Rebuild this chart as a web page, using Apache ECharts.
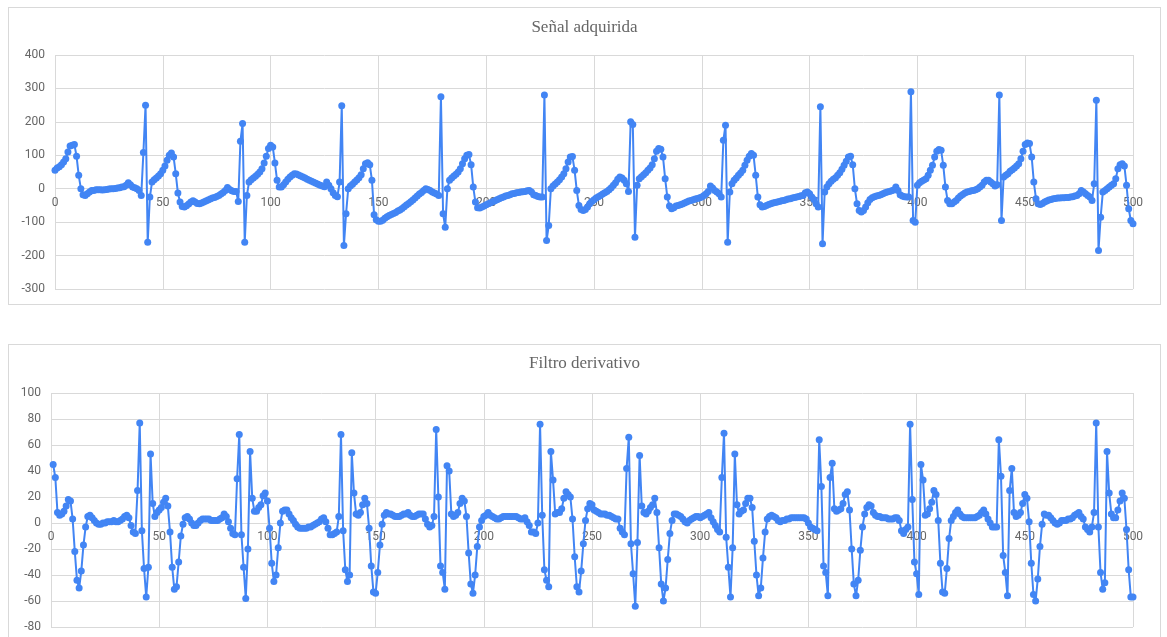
<!DOCTYPE html>
<html><head><meta charset="utf-8">
<script src="https://cdn.jsdelivr.net/npm/echarts@6/dist/echarts.min.js"></script>
<style>
html,body{margin:0;padding:0;background:#fff;overflow:hidden;width:1167px;height:637px;}
.box{position:absolute;left:8px;width:1151px;border:1px solid #d9d9d9;background:#fff;}
#c1{top:7px;height:296px;}
#c2{top:344px;height:300px;}
</style></head><body>
<div id="c1" class="box"></div><div id="c2" class="box"></div>
<script>
var title1 = 'Señal adquirida';
var title2 = 'Filtro derivativo';
var xTicks = {min: 0, max: 500, interval: 50};
var y1Ticks = {min: -300, max: 400, interval: 100};
var y2Ticks = {min: -80, max: 100, interval: 20};

// Señal adquirida, samples 0..500
var signal = [
55, 62, 66, 72, 80, 90, 110, 128, 130, 132,
97, 40, 0, -18, -20, -15, -10, -5, -5, -3,
-3, -3, -4, -3, -2, -1, 0, 0, 1, 2,
3, 5, 6, 10, 18, 12, 5, 3, 0, -5,
-20, 108, 250, -160, -25, 20, 27, 32, 38, 45,
55, 68, 85, 100, 107, 95, 45, -13, -40, -53,
-55, -51, -46, -40, -36, -40, -44, -45, -43, -40,
-37, -34, -31, -28, -26, -23, -20, -16, -11, -5,
4, -2, -6, -8, -8, -38, 142, 195, -160, -20,
20, 27, 32, 37, 43, 50, 60, 77, 97, 120,
130, 125, 77, 25, 5, 5, 12, 20, 28, 35,
40, 45, 44, 41, 38, 35, 32, 28, 25, 22,
19, 16, 13, 10, 8, 6, 20, 10, 0, -12,
-20, -24, 20, 248, -170, -75, 0, 8, 13, 20,
26, 33, 42, 60, 75, 78, 72, 25, -78, -93,
-97, -97, -94, -88, -84, -80, -77, -74, -71, -67,
-64, -59, -54, -49, -44, -39, -34, -28, -22, -16,
-11, -5, 0, -2, -5, -10, -13, -16, -20, 275,
-75, -115, 0, 25, 32, 38, 43, 50, 60, 75,
90, 100, 102, 72, 5, -40, -57, -58, -55, -52,
-48, -45, -42, -39, -36, -33, -30, -27, -25, -22,
-20, -18, -15, -14, -12, -11, -10, -9, -8, -6,
-5, -10, -18, -20, -23, -25, -25, 280, -155, -110,
0, 8, 14, 20, 27, 35, 45, 60, 80, 95,
96, 55, -5, -50, -62, -65, -62, -55, -45, -38,
-33, -28, -24, -20, -16, -12, -8, -3, 3, 10,
18, 28, 35, 32, 25, 15, -8, 200, 192, -145,
10, 30, 36, 42, 48, 55, 62, 72, 90, 112,
120, 118, 95, 30, -25, -52, -60, -57, -52, -50,
-48, -46, -43, -40, -37, -35, -33, -31, -29, -27,
-25, -20, -15, -8, 8, 2, -5, -10, -15, -25,
145, 190, -160, -10, 15, 25, 32, 40, 47, 55,
70, 85, 97, 105, 100, 40, -25, -48, -55, -53,
-50, -47, -45, -43, -41, -40, -38, -36, -35, -33,
-31, -30, -28, -26, -25, -23, -21, -20, -12, -10,
-15, -25, -32, -45, -55, 245, -165, -10, 5, 15,
22, 28, 33, 40, 48, 58, 70, 82, 95, 97,
72, 0, -45, -65, -70, -65, -55, -42, -32, -27,
-24, -22, -20, -18, -15, -12, -10, -8, -6, -4,
5, -5, -18, -22, -24, -25, -25, 290, -95, -100,
10, 18, 22, 26, 30, 40, 55, 70, 95, 112,
117, 115, 70, 5, -35, -45, -45, -40, -35, -28,
-22, -17, -13, -10, -8, -6, -5, -3, 0, 5,
10, 20, 25, 25, 20, 15, 8, 12, 280, -95,
35, 40, 45, 52, 57, 62, 68, 75, 90, 112,
132, 137, 135, 95, 20, -30, -45, -47, -44, -40,
-37, -34, -32, -30, -29, -28, -28, -27, -27, -26,
-26, -25, -24, -22, -20, -15, -5, -10, -15, -20,
-25, -35, 15, 265, -185, -85, -10, -5, 0, 5,
10, 15, 30, 60, 72, 75, 68, 10, -60, -95,
-105
];
var signalStart = 0;

// Filtro derivativo, samples 1..500
var derivative = [
45, 35, 8, 6, 7, 9, 13, 18, 17, 3,
-22, -44, -50, -37, -17, -3, 5, 6, 4, 2,
0, -1, -1, 0, 0, 1, 1, 1, 2, 1,
1, 2, 3, 5, 6, 4, -2, -7, -8, 25,
77, -6, -35, -57, -34, 53, 15, 5, 8, 10,
12, 16, 19, 13, -7, -34, -51, -49, -30, -10,
-1, 4, 5, 3, 0, -2, -2, 0, 2, 3,
3, 3, 3, 2, 2, 2, 2, 3, 4, 7,
5, 1, -4, -8, -9, 34, 68, -9, -34, -58,
-20, 55, 19, 9, 9, 12, 14, 21, 23, 17,
-4, -31, -45, -40, -19, 0, 9, 10, 10, 7,
4, 2, -1, -3, -4, -4, -4, -4, -3, -3,
-2, -1, 0, 1, 3, 4, 1, -4, -9, -9,
-8, -7, 5, 68, -6, -36, -45, -40, 54, 23,
7, 6, 8, 14, 19, 15, -4, -33, -53, -54,
-38, -17, -1, 6, 8, 7, 7, 6, 5, 5,
5, 6, 7, 7, 8, 6, 5, 5, 6, 7,
7, 7, 3, -1, -3, -2, 5, 72, 20, -33,
-38, -51, 44, 40, 7, 5, 6, 8, 15, 19,
17, 5, -23, -47, -54, -40, -18, -3, 2, 5,
6, 8, 6, 5, 4, 3, 3, 4, 5, 5,
5, 5, 5, 5, 5, 4, 3, 3, 4, 1,
-2, -7, -7, -8, 0, 76, 6, -36, -44, -49,
55, 33, 7, 8, 8, 11, 19, 24, 22, 20,
3, -26, -49, -53, -37, -16, 2, 11, 15, 14,
10, 9, 8, 7, 7, 7, 6, 6, 5, 4,
3, 3, -4, -7, -9, 42, 66, -16, -39, -64,
-15, 52, 13, 8, 7, 9, 12, 14, 19, 8,
-19, -47, -60, -50, -28, -8, 2, 7, 7, 6,
5, 3, 1, 0, 2, 3, 4, 5, 5, 4,
5, 6, 7, 8, 4, 1, -2, -5, -7, 35,
69, -11, -34, -57, -19, 53, 14, 7, 9, 10,
15, 19, 19, 12, -14, -40, -56, -50, -27, -7,
3, 5, 6, 5, 4, 2, 1, 2, 2, 3,
3, 4, 4, 4, 4, 4, 4, 4, 3, 0,
-3, -4, -5, -6, 64, 28, -33, -38, -56, 35,
46, 11, 9, 10, 11, 15, 22, 24, 10, -20,
-47, -56, -44, -21, -3, 7, 12, 14, 13, 8,
6, 5, 5, 4, 4, 4, 3, 3, 3, 4,
4, 2, -6, -8, -5, -3, 76, 18, -30, -39,
-55, 45, 33, 6, 7, 11, 16, 25, 22, 2,
-31, -53, -54, -35, -12, 2, 5, 8, 10, 7,
5, 4, 4, 4, 4, 4, 4, 5, 6, 8,
10, 7, 3, 0, -3, -3, -3, 64, 36, -25,
-38, -56, 25, 42, 8, 5, 6, 8, 15, 22,
19, 1, -31, -55, -60, -43, -18, -1, 7, 6,
6, 4, 2, 0, -1, 0, 2, 2, 2, 3,
3, 4, 6, 7, 8, 5, 3, -3, -5, -7,
-3, 8, 77, -3, -38, -51, -46, 55, 23, 7,
4, 4, 10, 17, 23, 19, -5, -36, -57, -57
];
var derivativeStart = 1;

function pairs(arr, start) {
  return arr.map(function (v, k) { return [start + k, v]; });
}

var BLUE = '#4285F4';
var GRID = '#d9d9d9';
var LABEL = '#666666';

// the x axis sits on the y = 0 line: shift it up from the grid bottom
function zeroOffset(gridHeight, yT) {
  return -gridHeight * (0 - yT.min) / (yT.max - yT.min);
}

function makeOption(title, yT, data, grid, titleTop, canvasH) {
  var gh = canvasH - grid.top - grid.bottom;
  return {
    animation: false,
    title: {
      text: title, left: 'center', top: titleTop, padding: 0,
      textStyle: {fontFamily: '"Liberation Serif", "Times New Roman", serif', fontWeight: 'normal', fontSize: 17, color: '#666666'}
    },
    grid: grid,
    xAxis: {
      type: 'value', min: xTicks.min, max: xTicks.max, interval: xTicks.interval,
      position: 'bottom', offset: zeroOffset(gh, yT),
      axisLine: {show: false, onZero: false},
      axisTick: {show: false},
      axisLabel: {color: LABEL, fontSize: 12, fontFamily: 'Roboto, Arial, sans-serif', margin: 8},
      splitLine: {show: true, lineStyle: {color: GRID, width: 1}}
    },
    yAxis: {
      type: 'value', min: yT.min, max: yT.max, interval: yT.interval,
      axisLine: {show: false}, axisTick: {show: false},
      axisLabel: {color: LABEL, fontSize: 12, fontFamily: 'Roboto, Arial, sans-serif', margin: 10},
      splitLine: {show: true, lineStyle: {color: GRID, width: 1}}
    },
    series: [{
      type: 'line', data: data, symbol: 'circle', symbolSize: 7, showSymbol: true,
      showAllSymbol: true,
      lineStyle: {color: BLUE, width: 2}, itemStyle: {color: BLUE},
      emphasis: {disabled: true}, z: 3
    }]
  };
}

var ch1 = echarts.init(document.getElementById('c1'), null, {renderer: 'canvas'});
ch1.setOption(makeOption(title1, y1Ticks, pairs(signal, signalStart),
  {left: 46, right: 27, top: 47, bottom: 15}, 11, 296));

var ch2 = echarts.init(document.getElementById('c2'), null, {renderer: 'canvas'});
ch2.setOption(makeOption(title2, y2Ticks, pairs(derivative, derivativeStart),
  {left: 42, right: 27, top: 48, bottom: 18}, 10, 300));
</script></body></html>
